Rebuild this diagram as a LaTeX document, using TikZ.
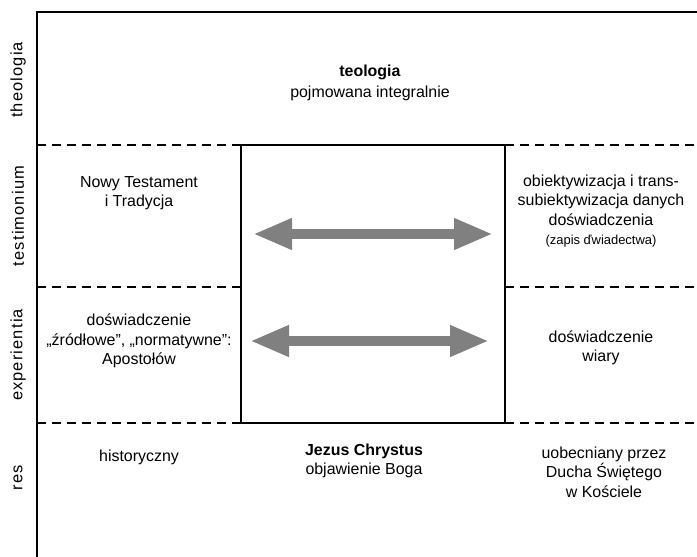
\documentclass[tikz,border=0pt]{standalone}
\usepackage{fontspec}
\setmainfont{Liberation Sans}
\usetikzlibrary{arrows.meta}
\definecolor{arrowgray}{HTML}{808080}
\tikzset{
  frame/.style={line width=2.6bp, line cap=rect},
  sep/.style={line width=2.4bp, dash pattern=on 9bp off 6bp},
  boxline/.style={line width=2.4bp},
  txt/.style={align=center, inner sep=0pt, font=\fontsize{16}{19.5}\selectfont},
  rowlabel/.style={rotate=90, inner sep=0pt, font=\fontsize{16.5}{18}\selectfont\addfontfeatures{LetterSpace=7}},
  bigarrow/.style={line width=10bp, arrowgray, {Triangle[length=39bp,width=29bp]}-{Triangle[length=39bp,width=29bp]}}
}
\begin{document}
\begin{tikzpicture}[x=1bp,y=-1bp]
\useasboundingbox (0,0) rectangle (697,557);
% frame
\coordinate (tl) at (37,12);
\coordinate (tr) at (697,12);
\coordinate (bl) at (37,557);
\draw[frame] (tr) -- (tl) -- (bl);
% dashed separators
\foreach \y in {145,287,423}{
  \draw[sep] (37,\y) -- (241,\y);
  \draw[sep] (505,\y) -- (697,\y);
}
% central box
\draw[boxline] (241,145) rectangle (505,423);
% row labels
\node[rowlabel] (l1) at (18,80) {theologia};
\node[rowlabel] (l2) at (18,216) {testimonium};
\node[rowlabel] (l3) at (18,355) {experientia};
\node[rowlabel] (l4) at (18,478) {res};
% texts
\node[txt] (teo) at (370,83) {\textbf{teologia}\\[1.5bp] pojmowana integralnie};
\node[txt] (nt) at (139,193) {Nowy Testament\\ i Tradycja};
\node[txt] (obj) at (601,211) {obiektywizacja i trans-\\ subiektywizacja danych\\ doświadczenia\\ {\fontsize{13}{15}\selectfont (zapis ďwiadectwa)}};
\node[txt] (dz) at (139,341) {doświadczenie\\ „źródłowe”, „normatywne”:\\ Apostołów};
\node[txt] (dw) at (601,348) {doświadczenie\\ wiary};
\node[txt] (hist) at (139,457) {historyczny};
\node[txt] (jc) at (364,461) {\textbf{Jezus Chrystus}\\ objawienie Boga};
\node[txt] (ducha) at (604,472) {uobecniany przez\\ Ducha Świętego\\ w Kościele};
% arrows
\coordinate (a1l) at (253,234);
\coordinate (a1r) at (493,234);
\coordinate (a2l) at (250,341);
\coordinate (a2r) at (489,341);
\draw[bigarrow] (a1l) -- (a1r);
\draw[bigarrow] (a2l) -- (a2r);
\end{tikzpicture}
\end{document}
